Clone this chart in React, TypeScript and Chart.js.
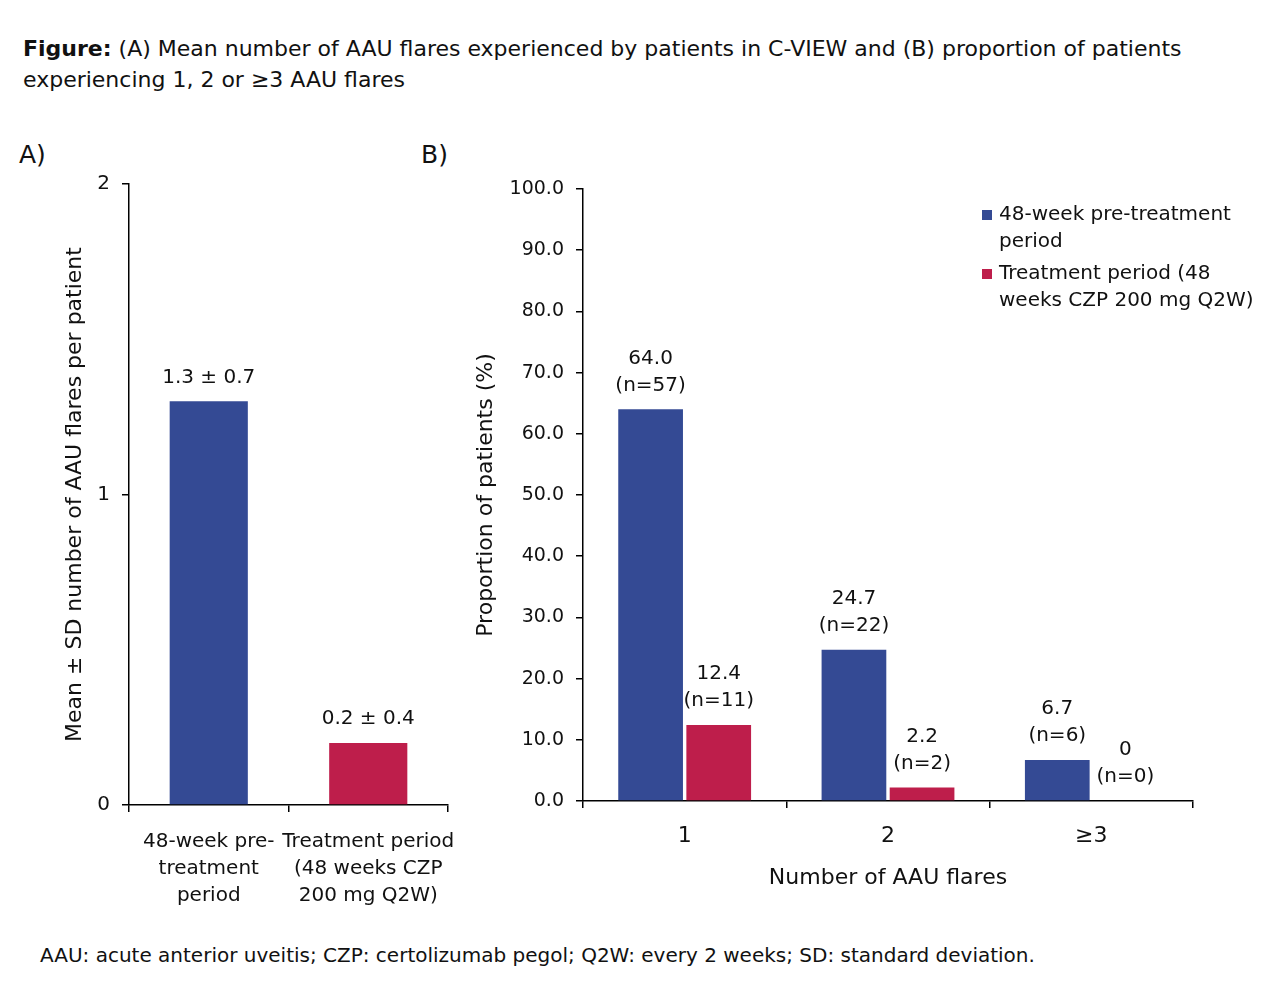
import React, { useEffect, useRef } from "react";
import { Chart, registerables } from "chart.js";

Chart.register(...registerables);

const FONT = "'DejaVu Sans', Verdana, sans-serif";
const BLUE = "#344A94";
const RED = "#BE1E4B";

// Panel A
const A_CATEGORIES = [
  ["48-week pre-", "treatment", "period"],
  ["Treatment period", "(48 weeks CZP", "200 mg Q2W)"],
];
const A_MEANS = [1.3, 0.2];
const A_SDS = [0.7, 0.4];
const A_TICKS_MAX = 2;

// Panel B
const B_CATEGORIES = ["1", "2", "≥3"];
const B_PRE = [64.0, 24.7, 6.7];
const B_PRE_N = [57, 22, 6];
const B_TRT = [12.4, 2.2, 0];
const B_TRT_N = [11, 2, 0];
const SERIES_NAMES = [
  "48-week pre-treatment period",
  "Treatment period (48 weeks CZP 200 mg Q2W)",
];
const LEGEND_LINES = [
  ["48-week pre-treatment", "period"],
  ["Treatment period (48", "weeks CZP 200 mg Q2W)"],
];

const fmt = (v: number) => (v === 0 ? "0" : v.toFixed(1));

const barLabelPlugin = {
  id: "barLabels",
  afterDatasetsDraw(chart: any) {
    const ctx = chart.ctx;
    const lbls = chart.options.plugins.barLabels?.labels as string[][][];
    if (!lbls) return;
    ctx.save();
    ctx.font = `20px ${FONT}`;
    ctx.fillStyle = "#111";
    ctx.textAlign = "center";
    ctx.textBaseline = "middle";
    chart.data.datasets.forEach((_ds: any, di: number) => {
      const meta = chart.getDatasetMeta(di);
      meta.data.forEach((bar: any, i: number) => {
        const lines = lbls[di][i];
        const n = lines.length;
        lines.forEach((t: string, li: number) => {
          ctx.fillText(t, bar.x, bar.y - 24 - (n - 1 - li) * 27);
        });
      });
    });
    ctx.restore();
  },
};

const legendPlugin = {
  id: "customLegend",
  afterDraw(chart: any) {
    const opts = chart.options.plugins.customLegend;
    if (!opts) return;
    const ctx = chart.ctx;
    const area = chart.chartArea;
    const x0 = area.right - 211;
    let y = area.top + 26;
    ctx.save();
    ctx.font = `20px ${FONT}`;
    ctx.textBaseline = "middle";
    ctx.textAlign = "left";
    chart.data.datasets.forEach((ds: any, di: number) => {
      const lines: string[] = opts.lines[di];
      ctx.fillStyle = ds.backgroundColor;
      ctx.fillRect(x0, y - 5, 10, 10);
      ctx.fillStyle = "#111";
      lines.forEach((t, li) => ctx.fillText(t, x0 + 17, y + li * 27));
      y += lines.length * 27 + 5;
    });
    ctx.restore();
  },
};

function PanelA() {
  const ref = useRef<HTMLCanvasElement>(null);
  useEffect(() => {
    const chart = new Chart(ref.current!, {
      type: "bar",
      data: {
        labels: A_CATEGORIES as any,
        datasets: [
          {
            label: "Mean",
            data: A_MEANS,
            backgroundColor: [BLUE, RED],
            categoryPercentage: 0.49,
            barPercentage: 1,
          },
        ],
      },
      options: {
        animation: false,
        responsive: false,
        maintainAspectRatio: false,
        layout: { padding: { left: 18, right: 12, top: 24, bottom: 0 } },
        plugins: {
          legend: { display: false },
          tooltip: { enabled: false },
          barLabels: {
            labels: [A_MEANS.map((m, i) => [`${m.toFixed(1)} ± ${A_SDS[i].toFixed(1)}`])],
          },
        } as any,
        scales: {
          x: {
            afterFit: (s: any) => {
              s.height = 115;
              s.paddingLeft = 0;
              s.paddingRight = 0;
            },
            grid: { drawOnChartArea: false, drawTicks: true, tickLength: 7, color: "#000", lineWidth: 1.5, offset: true },
            border: { color: "#000", width: 1.5 },
            ticks: { color: "#111", font: { family: FONT, size: 20, lineHeight: 1.35 }, padding: 16, maxRotation: 0, autoSkip: false },
          },
          y: {
            min: 0,
            max: A_TICKS_MAX,
            afterFit: (s: any) => {
              s.width = 71;
            },
            grid: { drawOnChartArea: false, drawTicks: true, tickLength: 7, color: "#000", lineWidth: 1.5 },
            border: { color: "#000", width: 1.5 },
            ticks: { stepSize: 1, color: "#111", font: { family: FONT, size: 20 }, padding: 12 },
            title: {
              display: true,
              text: "Mean ± SD number of AAU flares per patient",
              color: "#111",
              font: { family: FONT, size: 22 },
              padding: { top: 4, bottom: 4 },
            },
          },
        },
      },
      plugins: [barLabelPlugin],
    });
    return () => chart.destroy();
  }, []);
  return (
    <canvas
      ref={ref}
      width={420}
      height={760}
      style={{ position: "absolute", left: 40, top: 160, width: 420, height: 760 }}
    />
  );
}

function PanelB() {
  const ref = useRef<HTMLCanvasElement>(null);
  useEffect(() => {
    const chart = new Chart(ref.current!, {
      type: "bar",
      data: {
        labels: B_CATEGORIES,
        datasets: [
          {
            label: SERIES_NAMES[0],
            data: B_PRE,
            backgroundColor: BLUE,
            categoryPercentage: 0.67,
            barPercentage: 0.95,
          },
          {
            label: SERIES_NAMES[1],
            data: B_TRT,
            backgroundColor: RED,
            categoryPercentage: 0.67,
            barPercentage: 0.95,
          },
        ],
      },
      options: {
        animation: false,
        responsive: false,
        maintainAspectRatio: false,
        layout: { padding: { left: 0, right: 77, top: 29, bottom: 25 } },
        plugins: {
          legend: { display: false },
          tooltip: { enabled: false },
          barLabels: {
            labels: [
              B_PRE.map((v, i) => [fmt(v), `(n=${B_PRE_N[i]})`]),
              B_TRT.map((v, i) => [fmt(v), `(n=${B_TRT_N[i]})`]),
            ],
          },
          customLegend: { lines: LEGEND_LINES },
        } as any,
        scales: {
          x: {
            afterFit: (s: any) => {
              s.height = 94;
              s.paddingLeft = 0;
              s.paddingRight = 0;
            },
            grid: { drawOnChartArea: false, drawTicks: true, tickLength: 7, color: "#000", lineWidth: 1.5, offset: true },
            border: { color: "#000", width: 1.5 },
            ticks: { color: "#111", font: { family: FONT, size: 22 }, padding: 15, maxRotation: 0 },
            title: {
              display: true,
              text: "Number of AAU flares",
              color: "#111",
              font: { family: FONT, size: 22 },
              padding: { top: 4, bottom: 4 },
            },
          },
          y: {
            min: 0,
            max: 100,
            afterFit: (s: any) => {
              s.width = 117;
            },
            grid: { drawOnChartArea: false, drawTicks: true, tickLength: 7, color: "#000", lineWidth: 1.5 },
            border: { color: "#000", width: 1.5 },
            ticks: {
              stepSize: 10,
              color: "#111",
              font: { family: FONT, size: 19 },
              padding: 12,
              callback: (v: any) => Number(v).toFixed(1),
            },
            title: {
              display: true,
              text: "Proportion of patients (%)",
              color: "#111",
              font: { family: FONT, size: 22 },
              padding: { top: 7, bottom: 4 },
            },
          },
        },
      },
      plugins: [barLabelPlugin, legendPlugin],
    });
    return () => chart.destroy();
  }, []);
  return (
    <canvas
      ref={ref}
      width={804}
      height={760}
      style={{ position: "absolute", left: 466, top: 160, width: 804, height: 760 }}
    />
  );
}

export default function App() {
  return (
    <div
      style={{
        position: "absolute",
        left: 0,
        top: 0,
        width: 1280,
        height: 996,
        background: "#fff",
        fontFamily: FONT,
        color: "#111",
      }}
    >
      <div style={{ position: "absolute", left: 23, top: 33, fontSize: 22, lineHeight: "31px", width: 1250, whiteSpace: "nowrap" }}>
        <b>Figure:</b> (A) Mean number of AAU flares experienced by patients in C-VIEW and (B) proportion of patients
        <br />
        experiencing 1, 2 or ≥3 AAU flares
      </div>
      <div style={{ position: "absolute", left: 19, top: 139, fontSize: 25, lineHeight: "32px" }}>A)</div>
      <div style={{ position: "absolute", left: 421, top: 139, fontSize: 25, lineHeight: "32px" }}>B)</div>
      <PanelA />
      <PanelB />
      <div style={{ position: "absolute", left: 40, top: 941, fontSize: 20, lineHeight: "28px", whiteSpace: "nowrap" }}>
        AAU: acute anterior uveitis; CZP: certolizumab pegol; Q2W: every 2 weeks; SD: standard deviation.
      </div>
    </div>
  );
}
